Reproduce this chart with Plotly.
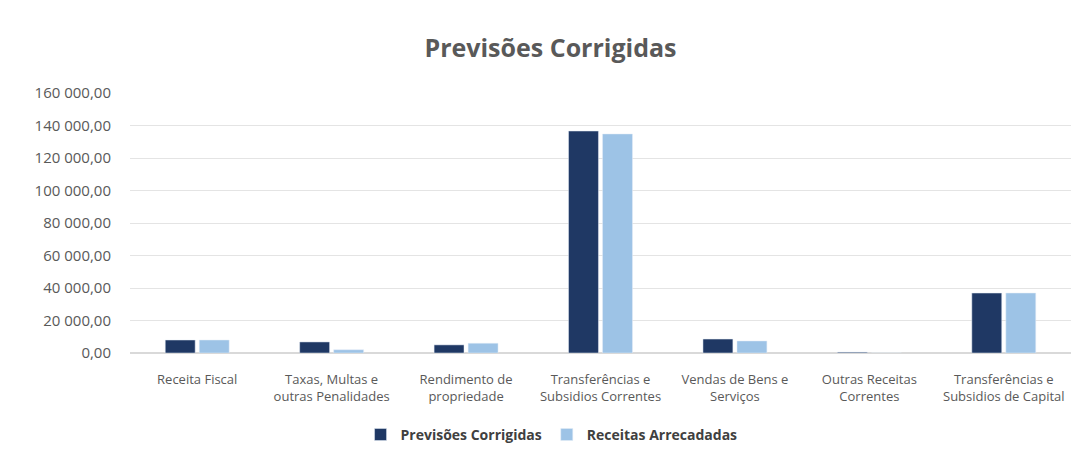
import plotly.graph_objects as go

categories = ["Receita Fiscal", "Taxas, Multas e<br>outras Penalidades", "Rendimento de<br>propriedade",
              "Transferências e<br>Subsidios Correntes", "Vendas de Bens e<br>Serviços",
              "Outras Receitas<br>Correntes", "Transferências e<br>Subsidios de Capital"]
previsoes = [8000, 6800, 5000, 136600, 8600, 500, 36900]
receitas = [8000, 2000, 6000, 134800, 7400, 0, 36900]
tick_vals = [0, 20000, 40000, 60000, 80000, 100000, 120000, 140000, 160000]
tick_text = ["0,00", "20 000,00", "40 000,00", "60 000,00", "80 000,00", "100 000,00",
             "120 000,00", "140 000,00", "160 000,00"]

fig = go.Figure()
fig.add_trace(go.Bar(x=categories, y=previsoes, name="<b>Previsões Corrigidas</b>", marker_color="#1F3864"))
fig.add_trace(go.Bar(x=categories, y=receitas, name="<b>Receitas Arrecadadas</b>", marker_color="#9DC3E6"))

fig.update_layout(
    width=1085, height=458,
    margin=dict(l=122, r=22, t=85, b=113),
    paper_bgcolor="white", plot_bgcolor="white",
    title=dict(text="<b>Previsões Corrigidas</b>", x=0.5, xanchor="center", y=0.913, yanchor="middle",
               font=dict(family="Open Sans", size=25, color="#595959")),
    barmode="group", bargap=0.494, bargroupgap=0.12,
    font=dict(family="Open Sans", color="#595959"),
    legend=dict(orientation="h", x=0.245, xanchor="left", y=-0.315, yanchor="middle",
                font=dict(size=14, color="#404040", family="Open Sans"), traceorder="normal",
                itemwidth=30),
    showlegend=True,
)
fig.update_yaxes(range=[0, 160000], tickvals=tick_vals, ticktext=tick_text, showgrid=True,
                 gridcolor="#E4E4E4", zeroline=True, zerolinecolor="#D9D9D9",
                 tickfont=dict(size=15, color="#595959"), ticklen=0, ticks="",
                 ticklabelstandoff=18)
fig.update_xaxes(tickfont=dict(size=13, color="#595959"), showline=True, linecolor="#D9D9D9",
                 ticklabelstandoff=14)
fig.write_html("out.html")
